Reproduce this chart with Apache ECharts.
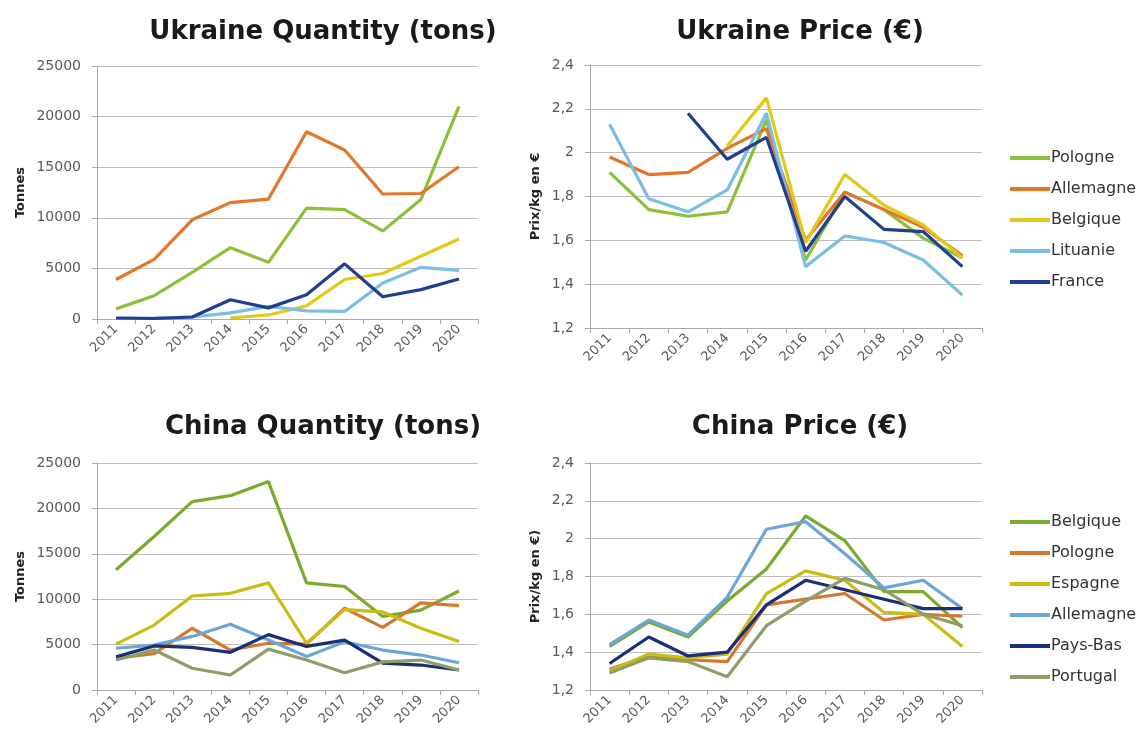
<!DOCTYPE html>
<html>
<head>
<meta charset="utf-8">
<script src="https://cdn.jsdelivr.net/npm/echarts@6/dist/echarts.min.js"></script>
<style>
  html, body { margin: 0; padding: 0; background: #fff; }
  #chart { width: 1144px; height: 742px; }
</style>
</head>
<body>
<div id="chart"></div>
<script>
var years = ['2011', '2012', '2013', '2014', '2015', '2016', '2017', '2018', '2019', '2020'];

// Ukraine - quantity (tonnes)
var uaCountries = ['Pologne', 'Allemagne', 'Belgique', 'Lituanie', 'France'];
var uaQtyPologne = [1000, 2300, 4600, 7050, 5600, 10950, 10800, 8700, 11800, 21000];
var uaQtyAllemagne = [3900, 5900, 9800, 11500, 11850, 18500, 16700, 12350, 12400, 15050];
var uaQtyBelgique = [null, null, null, 100, 400, 1300, 3900, 4500, 6200, 7900];
var uaQtyLituanie = [50, 100, 200, 600, 1250, 800, 750, 3550, 5100, 4800];
var uaQtyFrance = [100, 50, 200, 1900, 1100, 2400, 5450, 2200, 2900, 3950];

// Ukraine - price (EUR/kg)
var uaPrixPologne = [1.91, 1.74, 1.71, 1.73, 2.15, 1.51, 1.82, 1.74, 1.61, 1.52];
var uaPrixAllemagne = [1.98, 1.90, 1.91, 2.02, 2.11, 1.60, 1.82, 1.74, 1.66, 1.53];
var uaPrixBelgique = [null, null, null, 2.03, 2.25, 1.59, 1.90, 1.76, 1.67, 1.52];
var uaPrixLituanie = [2.13, 1.79, 1.73, 1.83, 2.18, 1.48, 1.62, 1.59, 1.51, 1.35];
var uaPrixFrance = [null, null, 2.18, 1.97, 2.07, 1.55, 1.80, 1.65, 1.64, 1.48];

// China - quantity (tonnes)
var cnCountries = ['Belgique', 'Pologne', 'Espagne', 'Allemagne', 'Pays-Bas', 'Portugal'];
var cnQtyBelgique = [13250, 16900, 20750, 21400, 22950, 11800, 11400, 8100, 8800, 10900];
var cnQtyPologne = [3500, 4000, 6800, 4400, 5150, 5050, 9000, 6900, 9600, 9300];
var cnQtyEspagne = [5050, 7150, 10350, 10650, 11800, 5150, 8850, 8600, 6800, 5350];
var cnQtyAllemagne = [4600, 4950, 5900, 7250, 5500, 3700, 5300, 4400, 3850, 3000];
var cnQtyPaysBas = [3650, 4850, 4700, 4150, 6100, 4800, 5500, 2950, 2750, 2200];
var cnQtyPortugal = [3300, 4400, 2400, 1650, 4500, 3300, 1900, 3100, 3300, 2200];

// China - price (EUR/kg)
var cnPrixBelgique = [1.43, 1.56, 1.48, 1.67, 1.84, 2.12, 1.99, 1.72, 1.72, 1.53];
var cnPrixPologne = [1.31, 1.38, 1.36, 1.35, 1.65, 1.68, 1.71, 1.57, 1.60, 1.59];
var cnPrixEspagne = [1.30, 1.39, 1.37, 1.39, 1.71, 1.83, 1.78, 1.61, 1.60, 1.43];
var cnPrixAllemagne = [1.44, 1.57, 1.49, 1.69, 2.05, 2.09, 1.92, 1.74, 1.78, 1.63];
var cnPrixPaysBas = [1.34, 1.48, 1.38, 1.40, 1.65, 1.78, 1.73, 1.68, 1.63, 1.63];
var cnPrixPortugal = [1.29, 1.37, 1.35, 1.27, 1.54, 1.67, 1.79, 1.73, 1.60, 1.54];

var uaColors = ['#8cbf3a', '#e2772b', '#e3c81c', '#7bbde3', '#203f8f'];
var cnColors = ['#7bab2e', '#d4782f', '#c9bd12', '#6aa6d8', '#1b2f79', '#8d9e68'];

var font = '"DejaVu Sans", sans-serif';
var labelColor = '#595959';
var gridColor = '#bdbdbd';

function commaFmt(v) {
  var r = Math.round(v * 10) / 10;
  return String(r).replace('.', ',');
}

function plainFmt(v) {
  return String(v);
}

function xAxis(gridIndex) {
  return {
    type: 'category', gridIndex: gridIndex, data: years, boundaryGap: true,
    axisLine: { lineStyle: { color: '#aaa', width: 1 } },
    axisTick: { show: true, length: 5, lineStyle: { color: '#aaa' } },
    axisLabel: { rotate: 45, color: labelColor, fontFamily: font, fontSize: 13, margin: 8 }
  };
}

function yAxis(gridIndex, min, max, interval, name, gap, fmt) {
  return {
    type: 'value', gridIndex: gridIndex, min: min, max: max, interval: interval,
    name: name, nameLocation: 'middle', nameGap: gap, nameRotate: 90,
    nameTextStyle: { fontFamily: font, fontWeight: 'bold', fontSize: 13, color: '#222' },
    axisLine: { show: true, lineStyle: { color: '#aaa' } },
    axisTick: { show: true, length: 5, lineStyle: { color: '#aaa' } },
    splitLine: { lineStyle: { color: gridColor, width: 1.2 } },
    axisLabel: { color: labelColor, fontFamily: font, fontSize: 14, margin: 16, formatter: fmt }
  };
}

function line(name, data, color, xi, yi) {
  return {
    name: name, type: 'line', data: data, xAxisIndex: xi, yAxisIndex: yi,
    showSymbol: false, symbol: 'none', connectNulls: false,
    lineStyle: { color: color, width: 3.2 }, itemStyle: { color: color },
    emphasis: { disabled: true }
  };
}

var chart = echarts.init(document.getElementById('chart'), null, { renderer: 'canvas' });

var titleStyle = { fontFamily: font, fontWeight: 'bold', fontSize: 26, color: '#1a1a1a' };

var legendText = { fontFamily: font, fontSize: 16, color: '#333', padding: [0, 0, 0, -4] };

var option = {
  backgroundColor: '#fff',
  animation: false,
  title: [
    { text: 'Ukraine Quantity (tons)', left: 318, top: 14, textAlign: 'center', textStyle: titleStyle },
    { text: 'Ukraine Price (\u20ac)', left: 795, top: 14, textAlign: 'center', textStyle: titleStyle },
    { text: 'China Quantity (tons)', left: 318, top: 409, textAlign: 'center', textStyle: titleStyle },
    { text: 'China Price (\u20ac)', left: 795, top: 409, textAlign: 'center', textStyle: titleStyle }
  ],
  legend: [
    {
      data: uaCountries, orient: 'vertical', left: 1005, top: 145,
      icon: 'rect', itemWidth: 40, itemHeight: 4, itemGap: 15,
      textStyle: legendText, selectedMode: false
    },
    {
      data: cnCountries.map(function (n) { return { name: n + ' ' }; }), orient: 'vertical', left: 1005, top: 509,
      icon: 'rect', itemWidth: 40, itemHeight: 4, itemGap: 15,
      textStyle: legendText,
      formatter: function (n) { return n.trim(); },
      selectedMode: false
    }
  ],
  grid: [
    { left: 97, right: 666, top: 66, bottom: 423 },
    { left: 590, right: 162, top: 65, bottom: 414 },
    { left: 97, right: 666, top: 463, bottom: 52 },
    { left: 590, right: 162, top: 463, bottom: 52 }
  ],
  xAxis: [xAxis(0), xAxis(1), xAxis(2), xAxis(3)],
  yAxis: [
    yAxis(0, 0, 25000, 5000, 'Tonnes', 70, plainFmt),
    yAxis(1, 1.2, 2.4, 0.2, 'Prix/kg en \u20ac', 48, commaFmt),
    yAxis(2, 0, 25000, 5000, 'Tonnes', 70, plainFmt),
    yAxis(3, 1.2, 2.4, 0.2, 'Prix/kg en \u20ac)', 48, commaFmt)
  ],
  series: [
    line('Pologne', uaQtyPologne, uaColors[0], 0, 0),
    line('Allemagne', uaQtyAllemagne, uaColors[1], 0, 0),
    line('Belgique', uaQtyBelgique, uaColors[2], 0, 0),
    line('Lituanie', uaQtyLituanie, uaColors[3], 0, 0),
    line('France', uaQtyFrance, uaColors[4], 0, 0),

    line('Pologne', uaPrixPologne, uaColors[0], 1, 1),
    line('Allemagne', uaPrixAllemagne, uaColors[1], 1, 1),
    line('Belgique', uaPrixBelgique, uaColors[2], 1, 1),
    line('Lituanie', uaPrixLituanie, uaColors[3], 1, 1),
    line('France', uaPrixFrance, uaColors[4], 1, 1),

    line('Belgique ', cnQtyBelgique, cnColors[0], 2, 2),
    line('Pologne ', cnQtyPologne, cnColors[1], 2, 2),
    line('Espagne ', cnQtyEspagne, cnColors[2], 2, 2),
    line('Allemagne ', cnQtyAllemagne, cnColors[3], 2, 2),
    line('Pays-Bas ', cnQtyPaysBas, cnColors[4], 2, 2),
    line('Portugal ', cnQtyPortugal, cnColors[5], 2, 2),

    line('Belgique ', cnPrixBelgique, cnColors[0], 3, 3),
    line('Pologne ', cnPrixPologne, cnColors[1], 3, 3),
    line('Espagne ', cnPrixEspagne, cnColors[2], 3, 3),
    line('Allemagne ', cnPrixAllemagne, cnColors[3], 3, 3),
    line('Pays-Bas ', cnPrixPaysBas, cnColors[4], 3, 3),
    line('Portugal ', cnPrixPortugal, cnColors[5], 3, 3)
  ]
};

chart.setOption(option);
</script>
</body>
</html>
